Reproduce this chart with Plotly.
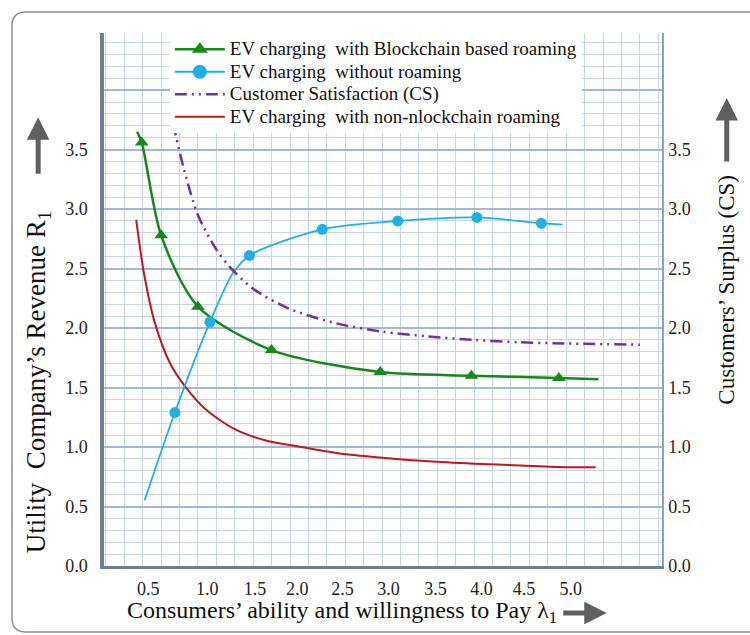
import plotly.graph_objects as go

# ---------------- data ----------------
x_tick_pos = [0.46, 1.10, 1.62, 2.08, 2.57, 3.07, 3.58, 4.08, 4.54, 5.05]
x_tick_text = ["0.5", "1.0", "1.5", "2.0", "2.5", "3.0", "3.5", "4.0", "4.5", "5.0"]
y_tick_pos = [0, 0.5, 1.0, 1.5, 2.0, 2.5, 3.0, 3.5, 4.0]
y_tick_text = ["0.0", "0.5", "1.0", "1.5", "2.0", "2.5", "3.0", "3.5", ""]

green_x = [0.34, 0.39, 0.60, 1.00, 1.80, 2.98, 3.97, 4.92, 5.35]
green_y = [3.65, 3.56, 2.78, 2.18, 1.815, 1.63, 1.60, 1.58, 1.57]
green_marked = [1, 2, 3, 4, 5, 6, 7]

blue_x = [0.42, 0.75, 1.13, 1.38, 1.56, 2.35, 3.17, 4.03, 4.73, 4.96]
blue_y = [0.55, 1.29, 2.05, 2.46, 2.61, 2.83, 2.90, 2.93, 2.88, 2.87]
blue_marked = [1, 2, 4, 5, 6, 7, 8]

cs_x = [0.73, 0.85, 1.0, 1.2, 1.35, 1.6, 2.0, 2.5, 3.0, 3.5, 4.0, 4.5, 5.0, 5.8]
cs_y = [3.72, 3.33, 2.95, 2.66, 2.51, 2.33, 2.16, 2.04, 1.97, 1.93, 1.90, 1.88, 1.87, 1.86]

red_x = [0.33, 0.41, 0.53, 0.70, 0.86, 1.08, 1.40, 1.76, 2.05, 2.5, 3.0, 3.5, 4.0, 4.5, 5.0, 5.32]
red_y = [2.91, 2.48, 2.05, 1.70, 1.51, 1.32, 1.15, 1.05, 1.01, 0.95, 0.91, 0.88, 0.86, 0.845, 0.83, 0.83]

names = [
    "EV charging  with Blockchain based roaming",
    "EV charging  without roaming",
    "Customer Satisfaction (CS)",
    "EV charging  with non-nlockchain roaming",
]

GREEN = "#15891a"
BLUE = "#1fb1e6"
PURPLE = "#7032a0"
RED = "#c4161c"
SERIF = "Liberation Serif, Times New Roman, serif"


def leg(t):
    return f'<span style="font-size:19px">{t}</span>'


fig = go.Figure()

# red line
fig.add_trace(go.Scatter(x=red_x, y=red_y, mode="lines", name=leg(names[3]),
                         line=dict(color=RED, width=2, shape="spline", smoothing=0.8),
                         legendrank=4))
# CS line (right axis)
fig.add_trace(go.Scatter(x=cs_x, y=cs_y, mode="lines", name=leg(names[2]), yaxis="y2",
                         line=dict(color=PURPLE, width=2.5, shape="spline", smoothing=0.8,
                                   dash="12px,5px,2px,5px,2px,5px"),
                         legendrank=3))
# green
fig.add_trace(go.Scatter(x=green_x, y=green_y, mode="lines", showlegend=False,
                         line=dict(color=GREEN, width=2.5, shape="spline", smoothing=0.8)))
fig.add_trace(go.Scatter(x=[green_x[i] for i in green_marked], y=[green_y[i] for i in green_marked],
                         mode="markers", showlegend=False,
                         marker=dict(symbol="triangle-up", size=12, color=GREEN)))
fig.add_trace(go.Scatter(x=[None], y=[None], mode="lines+markers", name=leg(names[0]),
                         line=dict(color=GREEN, width=2.5),
                         marker=dict(symbol="triangle-up", size=14, color=GREEN), legendrank=1))
# blue
fig.add_trace(go.Scatter(x=blue_x, y=blue_y, mode="lines", showlegend=False,
                         line=dict(color=BLUE, width=1.8, shape="spline", smoothing=0.8)))
fig.add_trace(go.Scatter(x=[blue_x[i] for i in blue_marked], y=[blue_y[i] for i in blue_marked],
                         mode="markers", showlegend=False,
                         marker=dict(symbol="circle", size=11, color=BLUE)))
fig.add_trace(go.Scatter(x=[None], y=[None], mode="lines+markers", name=leg(names[1]),
                         line=dict(color=BLUE, width=2),
                         marker=dict(symbol="circle", size=14, color=BLUE), legendrank=2))

XR = [-0.02, 6.04]
YR = [0, 4.48]
MINOR_GRID = "#c6d5ea"
MAJOR_GRID = "#a3b8d6"
TICKFONT = dict(family=SERIF, size=18, color="#222")

fig.update_layout(
    width=750, height=635, autosize=False,
    margin=dict(l=104, r=88, t=33, b=69),
    paper_bgcolor="white", plot_bgcolor="white",
    font=dict(family=SERIF, size=16, color="#222"),
    xaxis=dict(range=XR, tickmode="array", tickvals=x_tick_pos, ticktext=x_tick_text,
               showgrid=False, zeroline=False, ticks="", ticklabelstandoff=4,
               showline=True, linecolor="#6d7f98", linewidth=3, tickfont=TICKFONT,
               minor=dict(tick0=0, dtick=0.2, showgrid=True, gridcolor=MINOR_GRID, gridwidth=1)),
    xaxis2=dict(range=XR, overlaying="x", anchor="y", side="top", tick0=0, dtick=1,
                showgrid=True, gridcolor=MAJOR_GRID, gridwidth=2, showticklabels=False,
                zeroline=False, ticks="", showline=True, linecolor="#555", linewidth=1),
    yaxis=dict(range=YR, tickmode="array", tickvals=y_tick_pos, ticktext=y_tick_text,
               showgrid=True, gridcolor=MAJOR_GRID, gridwidth=2, zeroline=False, ticks="",
               ticklabelstandoff=9, showline=True, linecolor="#6d7f98", linewidth=3.5,
               tickfont=TICKFONT,
               minor=dict(tick0=0, dtick=0.1, showgrid=True, gridcolor=MINOR_GRID, gridwidth=1)),
    yaxis2=dict(range=YR, overlaying="y", side="right", anchor="x", tickmode="array",
                tickvals=y_tick_pos, ticktext=y_tick_text, showgrid=False, zeroline=False,
                ticks="", ticklabelstandoff=1, showline=True, linecolor="#8ea2be",
                linewidth=1.5, tickfont=TICKFONT),
    legend=dict(x=0.118, y=1.0, xanchor="left", yanchor="top", bgcolor="white",
                borderwidth=0, font=dict(family=SERIF, size=15, color="#111"),
                itemwidth=50, tracegroupgap=0),
    showlegend=True,
)

# axis titles
fig.add_annotation(text="Consumers’ ability and willingness to Pay λ<sub>1</sub>",
                   xref="paper", yref="paper", x=0.4265, y=-0.087, showarrow=False,
                   xanchor="center", yanchor="middle", font=dict(family=SERIF, size=24, color="#111"))
fig.add_annotation(text="Utility  Company’s Revenue R<sub>1</sub>", textangle=-90,
                   xref="paper", yref="paper", x=-0.118, y=0.345, showarrow=False,
                   xanchor="center", yanchor="middle", font=dict(family=SERIF, size=27, color="#111"))
fig.add_annotation(text="Customers’ Surplus (CS)", textangle=-90,
                   xref="paper", yref="paper", x=1.116, y=0.518, showarrow=False,
                   xanchor="center", yanchor="middle", font=dict(family=SERIF, size=23, color="#111"))

# arrows next to titles
ARROW = "#5f5f5f"
fig.add_annotation(text="", xref="paper", yref="paper", x=-0.118, y=0.842, ax=0, ay=58,
                   showarrow=True, arrowhead=2, arrowsize=0.9, arrowwidth=5, arrowcolor=ARROW)
fig.add_annotation(text="", xref="paper", yref="paper", x=1.116, y=0.878, ax=0, ay=65,
                   showarrow=True, arrowhead=2, arrowsize=0.9, arrowwidth=5, arrowcolor=ARROW)
fig.add_annotation(text="", xref="paper", yref="paper", x=0.901, y=-0.088, ax=-45, ay=0,
                   showarrow=True, arrowhead=2, arrowsize=0.9, arrowwidth=5, arrowcolor=ARROW)

# rounded outer frame
def px2paper_x(px):
    return (px - 104) / 558.0

def px2paper_y(py):
    return (566 - py) / 533.0

x0, x1 = px2paper_x(12), px2paper_x(770)
yt, yb = px2paper_y(12), px2paper_y(632)
rx, ry = 14 / 558.0, 14 / 533.0
path = (f"M {x1},{yt} L {x0 + rx},{yt} Q {x0},{yt} {x0},{yt - ry} "
        f"L {x0},{yb + ry} Q {x0},{yb} {x0 + rx},{yb} L {x1},{yb}")
fig.add_shape(type="path", path=path, xref="paper", yref="paper",
              line=dict(color="#8a8f8f", width=1.5), layer="above")

fig.write_html("out.html", config={"displayModeBar": False},
               post_script="document.body.style.margin='0';")
